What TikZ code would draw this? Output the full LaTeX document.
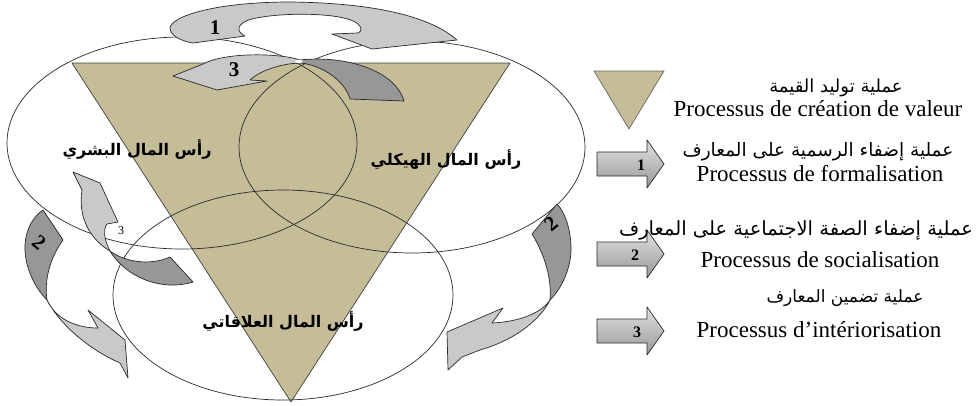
\documentclass[tikz,border=0pt]{standalone}
\usepackage{fontspec}
\setmainfont{Liberation Serif}
\newfontfamily\arabicfont[Script=Arabic]{DejaVu Sans}
\TeXXeTstate=1
\definecolor{tanfill}{HTML}{C4BD97}
\definecolor{lightar}{HTML}{C9C9C9}
\definecolor{darkar}{HTML}{979797}
\definecolor{edgec}{HTML}{2A2A2A}
\begin{document}
\begin{tikzpicture}[x=1pt,y=-1pt,line join=round,
  outl/.style={draw=edgec,line width=0.7pt},
  lightpart/.style={outl,fill=lightar},
  darkpart/.style={outl,fill=darkar},
  capital/.style={font=\arabicfont\bfseries\fontsize{16}{18}\selectfont,inner sep=0pt},
  ar/.style={font=\arabicfont\fontsize{#1}{20}\selectfont,inner sep=0pt},
  ar/.default=17,
  fr/.style={font=\fontsize{23}{26}\selectfont,inner sep=0pt,anchor=base},
  num/.style={font=\bfseries\fontsize{21}{23}\selectfont,inner sep=0pt},
  legnum/.style={font=\bfseries\fontsize{16}{18}\selectfont,inner sep=0pt},
  legarrow/.style={outl,top color=black!12,bottom color=black!40}]
\useasboundingbox[fill=white] (0,0) rectangle (980,405);

% value creation triangle
\draw[outl,fill=tanfill,draw=black!75] (72,63) -- (510,63) -- (291,402) -- cycle;

% the three capitals
\draw[outl] (182,143) ellipse [x radius=175pt,y radius=106pt];
\draw[outl] (412,147) ellipse [x radius=173pt,y radius=106pt];
\draw[outl] (283,295) ellipse [x radius=170pt,y radius=105pt];

% arrow 1 (top)
\draw[lightpart] (193,43) -- (245,36)
  .. controls (236,32) and (236,23) .. (252,19)
  .. controls (280,12) and (345,12) .. (358,24)
  .. controls (362,28) and (362,31) .. (358,33)
  -- (332,34) -- (372,49) -- (457,40)
  .. controls (432,18) and (380,3) .. (290,2)
  .. controls (220,2) and (172,15) .. (170,28)
  .. controls (170,35) and (180,41) .. (193,43) -- cycle;

% arrow 3 (top): dark tail and light head
\draw[darkpart] (300,60) .. controls (345,55) and (395,70) .. (404,101)
  -- (350,99) .. controls (346,85) and (330,68) .. (302,63) -- cycle;
\draw[lightpart] (300,60) .. controls (280,53) and (225,52) .. (203,64)
  -- (173,76) -- (217,90) -- (267,81) -- (250,80)
  .. controls (262,69) and (285,63) .. (302,63) -- cycle;
\fill[white] (299,61.5) ellipse [x radius=4pt,y radius=1.6pt];

% arrow 3 (left)
\draw[darkpart] (110,251) .. controls (125,276) and (160,292) .. (193,282)
  -- (170,257) .. controls (150,266) and (125,262) .. (110,251) -- cycle;
\draw[lightpart] (110,251) .. controls (104,240) and (103,229) .. (107,224)
  -- (118,222) -- (100,183) -- (73,172) -- (82,190)
  .. controls (78,215) and (88,238) .. (110,251) -- cycle;

% arrow 2 (left)
\draw[darkpart] (43,210) -- (63,240)
  .. controls (50,258) and (44,280) .. (47,300)
  .. controls (32,285) and (24,262) .. (25,245)
  .. controls (26,228) and (34,216) .. (43,210) -- cycle;
\draw[lightpart] (47,300) .. controls (60,325) and (90,350) .. (120,363)
  -- (128,378) -- (125,340) -- (88,310) -- (98,328)
  .. controls (75,328) and (55,318) .. (47,300) -- cycle;

% arrow 2 (right)
\draw[darkpart] (557,204) -- (532,234)
  .. controls (545,255) and (552,280) .. (550,300)
  .. controls (565,285) and (572,262) .. (571,245)
  .. controls (570,228) and (565,212) .. (557,204) -- cycle;
\draw[lightpart] (550,300) .. controls (540,320) and (515,340) .. (480,350)
  -- (462,357) -- (448,370) -- (447,332) -- (503,308) -- (492,323)
  .. controls (515,322) and (540,315) .. (550,300) -- cycle;

% arrow numbers
\node[num] (n1) at (215,28) {1};
\node[num] (n3) at (234,70) {3};
\node[num,rotate=-40] (n2l) at (39,243) {2};
\node[num,rotate=40] (n2r) at (551,224) {2};
\node[font=\fontsize{12}{13}\selectfont,inner sep=0pt] (n3l) at (121,231) {3};

% capital labels
\node[capital] (hum) at (137,150) {\beginR رأس المال البشري\endR};
\node[capital] (str) at (446,160) {\beginR رأس المال الهيكلي\endR};
\node[capital] (rel) at (283,322) {\beginR رأس المال العلاقاتي\endR};

% legend
\draw[outl,fill=tanfill,draw=black!60] (594,71) -- (664,71) -- (629,129) -- cycle;
\node[ar=18] (l0a) at (836,88) {\beginR عملية توليد القيمة\endR};
\node[fr] (l0f) at (818,116) {Processus de création de valeur};

\draw[legarrow] (597,152) -- (647,152) -- (647,140) -- (664,164) -- (647,188) -- (647,176) -- (597,176) -- cycle;
\node[legnum] (k1) at (641,165) {1};
\node[ar=18.5] (l1a) at (818,152) {\beginR عملية إضفاء الرسمية على المعارف\endR};
\node[fr] (l1f) at (820,181) {Processus de formalisation};

\draw[legarrow] (597,242) -- (647,242) -- (647,230) -- (664,254) -- (647,278) -- (647,266) -- (597,266) -- cycle;
\node[legnum] (k2) at (635,255) {2};
\node[ar=19.5] (l2a) at (796,230) {\beginR عملية إضفاء الصفة الاجتماعية على المعارف\endR};
\node[fr] (l2f) at (820,267) {Processus de socialisation};

\draw[legarrow] (597,319) -- (647,319) -- (647,307) -- (664,331) -- (647,355) -- (647,343) -- (597,343) -- cycle;
\node[legnum] (k3) at (637,332) {3};
\node[ar=17] (l3a) at (845,298) {\beginR عملية تضمين المعارف\endR};
\node[fr] (l3f) at (819,337) {Processus d’intériorisation};
\end{tikzpicture}
\end{document}
